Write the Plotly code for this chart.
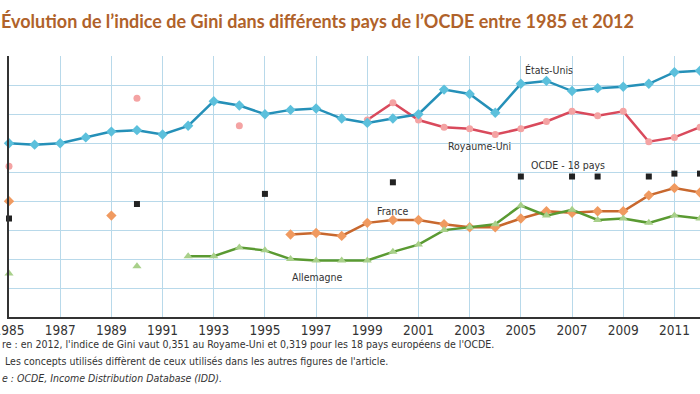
import plotly.graph_objects as go

years = list(range(1985, 2013))

us = [0.340, 0.339, 0.340, 0.344, 0.348, 0.349, 0.346, 0.352, 0.369, 0.366,
      0.360, 0.363, 0.364, 0.357, 0.354, 0.357, 0.360, 0.377, 0.374, 0.361,
      0.381, 0.383, 0.376, 0.378, 0.379, 0.381, 0.389, 0.390]

N = None
uk = [0.324, N, N, N, N, 0.371, N, N, N, 0.352,
      N, N, N, N, 0.356, 0.368, 0.356, 0.351, 0.350, 0.346,
      0.350, 0.355, 0.362, 0.359, 0.362, 0.341, 0.344, 0.351]

france = [0.300, N, N, N, 0.290, N, N, N, N, N,
          N, 0.277, 0.278, 0.276, 0.285, 0.287, 0.287, 0.284, 0.282, 0.282,
          0.288, 0.293, 0.292, 0.293, 0.293, 0.304, 0.309, 0.306]

germany = [0.250, N, N, N, N, 0.255, N, 0.262, 0.262, 0.268,
           0.266, 0.260, 0.259, 0.259, 0.259, 0.265, 0.270, 0.280, 0.282, 0.284,
           0.297, 0.290, 0.294, 0.287, 0.288, 0.285, 0.290, 0.288]

oecd_years = [1985, 1990, 1995, 2000, 2005, 2007, 2008, 2010, 2011, 2012]
oecd = [0.288, 0.298, 0.305, 0.313, 0.317, 0.317, 0.317, 0.317, 0.319, 0.319]

tick_years = list(range(1985, 2012, 2))
tick_labels = [str(y) for y in tick_years]

title_text = "Évolution de l’indice de Gini dans différents pays de l’OCDE entre 1985 et 2012"
note1 = "re : en 2012, l'indice de Gini vaut 0,351 au Royame-Uni et 0,319 pour les 18 pays européens de l'OCDE."
note2 = " Les concepts utilisés diffèrent de ceux utilisés dans les autres figures de l'article."
note3 = "e : OCDE, Income Distribution Database (IDD)."

series_labels = [
    ("États-Unis", 2006.1, 0.3903),
    ("Royaume-Uni", 2003.4, 0.3379),
    ("OCDE - 18 pays", 2006.85, 0.3248),
    ("France", 2000.0, 0.2931),
    ("Allemagne", 1997.05, 0.2476),
]

NARROW = "Liberation Sans Narrow, DejaVu Sans Condensed, sans-serif"

fig = go.Figure()

fig.add_trace(go.Scatter(
    x=oecd_years, y=oecd, mode="markers",
    marker=dict(symbol="square", size=6, color="#222222"),
    cliponaxis=False, showlegend=False))

fig.add_trace(go.Scatter(
    x=years, y=france, mode="lines+markers", connectgaps=False,
    line=dict(color="#c8682e", width=2.5),
    marker=dict(symbol="diamond", size=8, color="#f09a60"),
    cliponaxis=False, showlegend=False))

fig.add_trace(go.Scatter(
    x=years, y=germany, mode="lines+markers", connectgaps=False,
    line=dict(color="#5a9a32", width=2.5),
    marker=dict(symbol="triangle-up", size=8, color="#a8d08a"),
    cliponaxis=False, showlegend=False))

fig.add_trace(go.Scatter(
    x=years, y=uk, mode="lines+markers", connectgaps=False,
    line=dict(color="#d94a5c", width=2.5),
    marker=dict(symbol="circle", size=7, color="#f4a3a3"),
    cliponaxis=False, showlegend=False))

fig.add_trace(go.Scatter(
    x=years, y=us, mode="lines+markers",
    line=dict(color="#2590b8", width=2.5),
    marker=dict(symbol="diamond", size=8, color="#5cc0dc"),
    cliponaxis=False, showlegend=False))

for text, xv, yv in series_labels:
    fig.add_annotation(x=xv, y=yv, xref="x", yref="y", text=text, showarrow=False,
                       font=dict(family=NARROW, size=10.5, color="#333333"))

fig.add_annotation(x=-10/691, y=(317 - 21) / 261, xref="paper", yref="paper",
                   xanchor="left", yanchor="middle", text="<b>" + title_text + "</b>",
                   showarrow=False,
                   font=dict(family="Lato, sans-serif", size=18, color="#b0622a"))

for txt, ypx, italic in [(note1, 344, False), (note2, 361, False), (note3, 378, True)]:
    t = "<i>" + txt + "</i>" if italic else txt
    fig.add_annotation(x=-9/691, y=(317 - ypx) / 261, xref="paper", yref="paper",
                       xanchor="left", yanchor="middle", text=t, showarrow=False,
                       font=dict(family=NARROW, size=10.5, color="#333333"))

fig.update_layout(
    width=700, height=394,
    margin=dict(l=9, r=0, t=56, b=77, autoexpand=False),
    plot_bgcolor="white", paper_bgcolor="white",
    xaxis=dict(range=[1985, 2012], tickvals=tick_years, ticktext=tick_labels,
               showgrid=True, gridcolor="#b8d9ea", gridwidth=1,
               showline=True, linecolor="#333333", linewidth=2,
               zeroline=False, ticks="", ticklabeloverflow="allow", automargin=False,
               tickfont=dict(family=NARROW, size=13.5, color="#333333")),
    yaxis=dict(range=[0.22, 0.4002], dtick=0.02, tick0=0.22,
               showgrid=True, gridcolor="#b8d9ea", gridwidth=1,
               showline=True, linecolor="#333333", linewidth=2,
               zeroline=False, showticklabels=False, ticks="", automargin=False),
)

fig.write_html("out.html", config={"displayModeBar": False},
               post_script="document.body.style.margin='0';document.body.style.overflow='hidden';")
